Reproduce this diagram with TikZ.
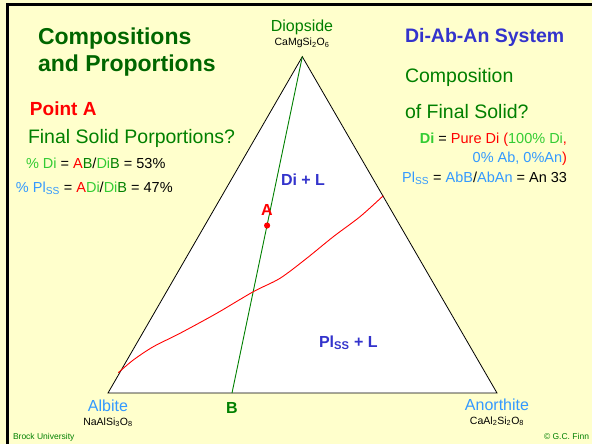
\documentclass[tikz,border=0pt]{standalone}
\usepackage{fontspec}
\setmainfont{Liberation Sans}
\definecolor{bgy}{HTML}{FFFFCC}
\definecolor{titlegreen}{HTML}{006600}
\definecolor{midgreen}{HTML}{008000}
\definecolor{ltgreen}{HTML}{33CC33}
\definecolor{ltblue}{HTML}{3399FF}
\definecolor{sysblue}{HTML}{3333CC}
\newcommand\fsz[1]{\fontsize{#1}{#1}\selectfont}
\begin{document}
\begin{tikzpicture}[x=1pt,y=-1pt,
  every node/.style={inner sep=0pt,outer sep=0pt},
  lt/.style={anchor=base west},
  rt/.style={anchor=base east},
  ct/.style={anchor=base},
  bigtitle/.style={lt,font=\fsz{23}\bfseries,text=titlegreen},
  headtxt/.style={lt,font=\fsz{19.5},text=midgreen},
  smalltxt/.style={font=\fsz{14.5}},
  endname/.style={ct,font=\fsz{16},text=ltblue},
  formula/.style={ct,font=\fsz{10.5}},
  field/.style={lt,font=\fsz{16}\bfseries,text=sysblue},
  foot/.style={font=\fsz{8.5},text=midgreen}]
\fill[bgy] (0,0) rectangle (592,444);
\useasboundingbox (0,0) rectangle (592,444);
\draw[line width=3pt] (7.5,444) -- (7.5,4.5) -- (592,4.5);

% triangle
\coordinate (Di) at (302.3,56.7);
\coordinate (Ab) at (108,393);
\coordinate (An) at (497,393);
\coordinate (B) at (232,393);
\filldraw[fill=white,draw=black,line width=0.8pt] (Ab) -- (An) -- (Di) -- cycle;
\draw[midgreen,line width=0.9pt] (Di) -- (B);

% cotectic
\draw[red,line width=0.9pt] plot[smooth,tension=0.5] coordinates {
  (118.3,372.7) (133.3,360) (153.3,346.7) (180,333.3) (216.7,313.3)
  (253.3,291.7) (280,278.3) (306.7,258.3) (333.3,236.7) (360,216.7) (383.3,195.7)};

% point A
\fill[red] (267.1,225.5) circle (3.1) node[coordinate] (ptA) {};
\node[ct,font=\fsz{16}\bfseries,text=red] (Alab) at (267,215) {A};

% vertex labels
\node[ct,font=\fsz{16},text=midgreen] (dio) at (302,32) {Diopside};
\node[formula] (diof) at (302,46) {CaMgSi\textsubscript{2}O\textsubscript{6}};
\node[endname] (alb) at (108,411) {Albite};
\node[formula] (albf) at (108,425) {NaAlSi\textsubscript{3}O\textsubscript{8}};
\node[endname] (ano) at (497,410) {Anorthite};
\node[formula] (anof) at (497,424) {CaAl\textsubscript{2}Si\textsubscript{2}O\textsubscript{8}};
\node[ct,font=\fsz{16}\bfseries,text=midgreen] (Blab) at (232,413) {B};

% fields
\node[field] (diL) at (281,185) {Di + L};
\node[field] (plL) at (319,347) {Pl\textsubscript{SS} + L};

% left text
\node[bigtitle] (t1) at (38,45) {Compositions};
\node[bigtitle] (t2) at (38,72) {and Proportions};
\node[lt,font=\fsz{19}\bfseries,text=red] (pa) at (30,115) {Point A};
\node[headtxt] (fsp) at (28,143) {Final Solid Porportions?};
\node[lt,smalltxt] (l1) at (26,168) {\textcolor{ltgreen}{\% Di} = \textcolor{red}{A}\textcolor{midgreen}{B}/\textcolor{ltgreen}{Di}\textcolor{midgreen}{B} = 53\%};
\node[lt,smalltxt] (l2) at (16,192) {\textcolor{ltblue}{\% Pl\textsubscript{SS}} = \textcolor{red}{A}\textcolor{ltgreen}{Di}/\textcolor{ltgreen}{Di}\textcolor{midgreen}{B} = 47\%};

% right text
\node[lt,font=\fsz{19.5}\bfseries,text=sysblue] (sys) at (405,43) {Di-Ab-An System};
\node[headtxt] (comp) at (405,82) {Composition};
\node[headtxt] (fin) at (405,118) {of Final Solid?};
\node[rt,smalltxt] (r1) at (567,143) {\textcolor{ltgreen}{\bfseries Di} = \textcolor{red}{Pure Di (}\textcolor{ltgreen}{100\% Di}\textcolor{red}{,}};
\node[rt,smalltxt] (r2) at (567,162) {\textcolor{ltblue}{0\% Ab, 0\%An}\textcolor{red}{)}};
\node[rt,smalltxt] (r3) at (567,182) {\textcolor{ltblue}{Pl\textsubscript{SS}} = \textcolor{ltblue}{AbB}/\textcolor{ltblue}{AbAn} = An 33};

% footer
\node[foot,anchor=base west] (brock) at (13,439) {Brock University};
\node[foot,anchor=base east] (finn) at (589,439) {© G.C. Finn};
\end{tikzpicture}
\end{document}
